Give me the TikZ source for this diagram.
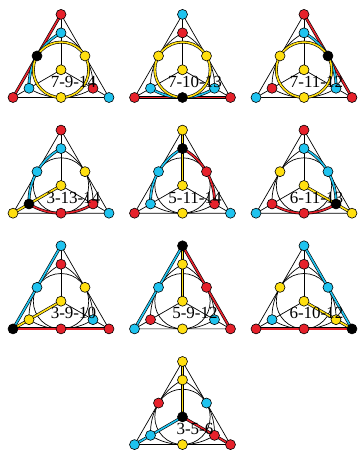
\documentclass[tikz,border=0pt]{standalone}
\usepackage{fontspec}
\setmainfont{Liberation Serif}
\pgfdeclarelayer{baselayer}
\pgfdeclarelayer{hllayer}
\pgfdeclarelayer{toplayer}
\pgfsetlayers{baselayer,hllayer,main,toplayer}
\definecolor{mred}{HTML}{E6212B}
\definecolor{mcyan}{HTML}{1FC3EF}
\definecolor{myel}{HTML}{FFDF10}
\tikzset{
  base/.style={line width=0.7pt, draw=black},
  hlout/.style={line width=2.8pt, draw=black},
  hlin/.style={line width=1.6pt},
  dot/.style={circle, draw=black, line width=0.6pt, minimum size=10pt, inner sep=0pt},
  lab/.style={font=\fontsize{17}{17}\selectfont, anchor=base, inner sep=0pt},
}
\newcommand{\Pfx}{}
\newcommand{\hlline}[3]{\draw[hlout] (\Pfx#1.center) -- (\Pfx#2.center); \draw[hlin,draw=#3] (\Pfx#1.center) -- (\Pfx#2.center);}
\newcommand{\hlcirc}[1]{\draw[hlout] (\Pfx O.center) circle[radius=27.7pt]; \draw[hlin,draw=#1] (\Pfx O.center) circle[radius=27.7pt];}
\newcommand{\hlarc}[3]{\draw[hlout] (\Pfx#1.center) arc[start angle=#2, delta angle=64.41, radius=60.02pt]; \draw[hlin,draw=#3] (\Pfx#1.center) arc[start angle=#2, delta angle=64.41, radius=60.02pt];}
\newcommand{\hlarcL}[1]{\hlarc{Ia}{117.795}{#1}}
\newcommand{\hlarcR}[1]{\hlarc{Ic}{-2.205}{#1}}
\newcommand{\hlarcM}[1]{\hlarc{Ib}{237.795}{#1}}
\newcommand{\Panel}[6]{%
\begin{scope}[shift={(#2pt,#3pt)},x=27.7pt,y=27.7pt]
\renewcommand{\Pfx}{#1}
\coordinate (#1pA) at (0,2);
\coordinate (#1pB) at (-1.7321,-1);
\coordinate (#1pC) at (1.7321,-1);
\coordinate (#1pL) at (-0.8660,0.5);
\coordinate (#1pR) at (0.8660,0.5);
\coordinate (#1pM) at (0,-1);
\coordinate (#1pO) at (0,0);
\coordinate (#1pIa) at (0,1.3333);
\coordinate (#1pIb) at (-1.1547,-0.6667);
\coordinate (#1pIc) at (1.1547,-0.6667);
\foreach \n/\c in {#5}{\node[dot,fill=\c] (#1\n) at (#1p\n) {};}
\begin{pgfonlayer}{baselayer}
\draw[base] (#1A.center) -- (#1B.center) -- (#1C.center) -- cycle;
\draw[base] (#1A.center) -- (#1O.center);
\draw[base] (#1B.center) -- (#1O.center);
\draw[base] (#1C.center) -- (#1O.center);
\draw[base] (#1O.center) circle[radius=27.7pt];
\draw[base] (#1Ia.center) arc[start angle=117.795, delta angle=64.41, radius=60.02pt];
\draw[base] (#1Ic.center) arc[start angle=-2.205, delta angle=64.41, radius=60.02pt];
\draw[base] (#1Ib.center) arc[start angle=237.795, delta angle=64.41, radius=60.02pt];
\end{pgfonlayer}
\begin{pgfonlayer}{hllayer}
#6
\end{pgfonlayer}
\begin{pgfonlayer}{toplayer}
\node[lab] (#1lab) at (0.451,-0.632) {#4};
\end{pgfonlayer}
\end{scope}}
\begin{document}
\begin{tikzpicture}
\useasboundingbox (0,0) rectangle (359pt,451pt);
\Panel{pa}{61}{381.2}{7-9-14}{A/mred,Ia/mcyan,L/black,R/myel,O/myel,B/mred,Ib/mcyan,M/myel,Ic/mred,C/mcyan}{\hlline{A}{B}{mred}\hlarcL{mcyan}\hlcirc{myel}}
\Panel{pb}{182.5}{381.2}{7-10-13}{A/mcyan,Ia/mred,L/myel,R/myel,O/myel,B/mred,Ib/mcyan,M/black,Ic/mcyan,C/mred}{\hlline{B}{C}{mred}\hlarcM{mcyan}\hlcirc{myel}}
\Panel{pc}{304}{381.2}{7-11-12}{A/mred,Ia/mcyan,L/myel,R/black,O/myel,B/mcyan,Ib/mred,M/myel,Ic/mcyan,C/mred}{\hlline{A}{C}{mred}\hlarcR{mcyan}\hlcirc{myel}}
\Panel{pd}{61}{265.5}{3-13-14}{A/mred,Ia/mcyan,L/mcyan,R/myel,O/myel,B/myel,Ib/black,M/mred,Ic/mred,C/mcyan}{\hlarcL{mcyan}\hlline{B}{O}{myel}\hlarcM{mred}}
\Panel{pe}{182.5}{265.5}{5-11-14}{A/myel,Ia/black,L/mcyan,R/mred,O/myel,B/mred,Ib/mcyan,M/myel,Ic/mred,C/mcyan}{\hlline{A}{O}{myel}\hlarcL{mcyan}\hlarcR{mred}}
\Panel{pf}{304}{265.5}{6-11-13}{A/mred,Ia/mcyan,L/myel,R/mcyan,O/myel,B/mcyan,Ib/mred,M/mred,Ic/black,C/myel}{\hlarcR{mcyan}\hlline{C}{O}{myel}\hlarcM{mred}}
\Panel{pg}{61}{149.8}{3-9-10}{A/mcyan,Ia/mred,L/mcyan,R/myel,O/myel,B/black,Ib/myel,M/mred,Ic/mcyan,C/mred}{\hlline{A}{B}{mcyan}\hlline{B}{O}{myel}\hlline{B}{C}{mred}}
\Panel{ph}{182.5}{149.8}{5-9-12}{A/black,Ia/myel,L/mcyan,R/mred,O/myel,B/mcyan,Ib/mred,M/myel,Ic/mcyan,C/mred}{\hlline{A}{B}{mcyan}\hlline{A}{C}{mred}\hlline{A}{O}{myel}}
\Panel{pi}{304}{149.8}{6-10-12}{A/mcyan,Ia/mred,L/myel,R/mcyan,O/myel,B/mred,Ib/mcyan,M/mred,Ic/myel,C/black}{\hlline{A}{C}{mcyan}\hlline{B}{C}{mred}\hlline{C}{O}{myel}}
\Panel{pj}{182.5}{34.1}{3-5-6}{A/myel,Ia/myel,L/mred,R/mcyan,O/black,B/mcyan,Ib/mcyan,M/myel,Ic/mred,C/mred}{\hlline{A}{O}{myel}\hlline{B}{O}{mcyan}\hlline{C}{O}{mred}}
\end{tikzpicture}
\end{document}
